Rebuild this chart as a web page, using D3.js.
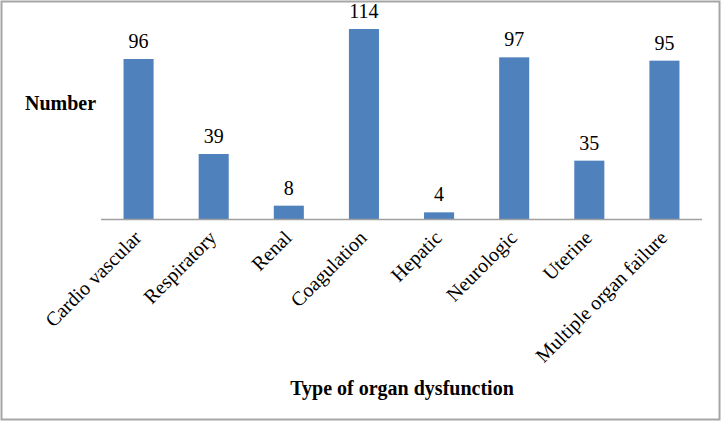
<!DOCTYPE html>
<html>
<head>
<meta charset="utf-8">
<script src="https://cdn.jsdelivr.net/npm/d3@7"></script>
<style>
  body { margin: 0; background: #fff; }
  svg text { font-family: "Liberation Serif", "Times New Roman", serif; fill: #000; }
</style>
</head>
<body>
<script>
// 器官功能障碍类型及其数量
var categories = ["Cardio vascular", "Respiratory", "Renal", "Coagulation", "Hepatic", "Neurologic", "Uterine", "Multiple organ failure"];
var counts = [96, 39, 8, 114, 4, 97, 35, 95];

var data = categories.map(function (c, i) { return { key: c, value: counts[i] }; });

var svg = d3.select("body").append("svg").attr("width", 723).attr("height", 422);

// 外框
svg.append("rect")
    .attr("x", 1.5).attr("y", 1.5)
    .attr("width", 718).attr("height", 418)
    .attr("fill", "none").attr("stroke", "#a6a6a6").attr("stroke-width", 2);

var margin = { top: 19, left: 101, right: 21, baseline: 219 };

var x = d3.scaleBand()
    .domain(categories)
    .range([margin.left, 723 - margin.right])
    .paddingInner(0.6).paddingOuter(0.3);

var y = d3.scaleLinear()
    .domain([0, 120])
    .range([margin.baseline, margin.top]);

svg.selectAll(".bar")
    .data(data)
    .enter().append("rect")
    .attr("class", "bar")
    .attr("x", function (d) { return x(d.key); })
    .attr("y", function (d) { return y(d.value); })
    .attr("width", x.bandwidth())
    .attr("height", function (d) { return y(0) - y(d.value); })
    .attr("fill", "#4f81bd");

// 底部轴线
svg.append("line")
    .attr("x1", margin.left).attr("x2", 723 - margin.right)
    .attr("y1", y(0) + 0.5).attr("y2", y(0) + 0.5)
    .attr("stroke", "#a0a0a0").attr("stroke-width", 1.5);

// 每个柱子顶部的数值
svg.selectAll(".val")
    .data(data)
    .enter().append("text")
    .attr("class", "val")
    .attr("x", function (d) { return x(d.key) + x.bandwidth() / 2; })
    .attr("y", function (d) { return y(d.value) - 11; })
    .attr("text-anchor", "middle")
    .attr("font-size", 20)
    .text(function (d) { return d.value; });

// 倾斜的类别标签
svg.selectAll(".cat")
    .data(data)
    .enter().append("text")
    .attr("class", "cat")
    .attr("text-anchor", "end")
    .attr("font-size", 20)
    .attr("transform", function (d) {
        return "translate(" + (x(d.key) + x.bandwidth() / 2 + 4) + "," + (y(0) + 20) + ") rotate(-45)";
    })
    .text(function (d) { return d.key; });

svg.append("text")
    .attr("x", 25).attr("y", 110)
    .attr("font-size", 20).attr("font-weight", "bold")
    .text("Number");

svg.append("text")
    .attr("x", 402).attr("y", 395)
    .attr("text-anchor", "middle")
    .attr("font-size", 20).attr("font-weight", "bold")
    .text("Type of organ dysfunction");
</script>
</body>
</html>
